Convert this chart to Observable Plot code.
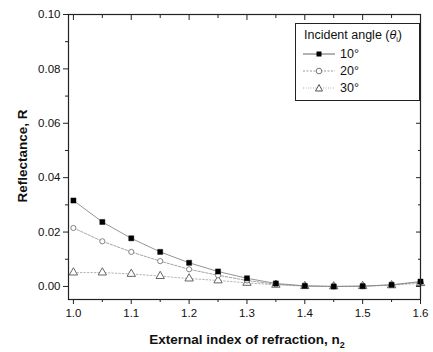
<!DOCTYPE html>
<html><head><meta charset="utf-8">
<script src="https://cdn.jsdelivr.net/npm/d3@7"></script>
<script src="https://cdn.jsdelivr.net/npm/@observablehq/plot@0.6"></script>
<style>
body{margin:0;background:#fff;}
#wrap{position:relative;width:433px;height:352px;font-family:"Liberation Sans",Arial,sans-serif;}
#legend{position:absolute;left:295px;top:23px;width:125px;height:78px;border:1px solid #222;box-sizing:border-box;background:#fff;font-size:12.5px;color:#111;}
#legend .t{position:absolute;left:8px;top:4px;white-space:nowrap;}
#legend .row{position:absolute;left:6px;height:16px;display:flex;align-items:center;}
#legend .row span{margin-left:4px;}
</style>
</head><body>
<div id="wrap"></div>
<script>
const n2 = [1.0,1.05,1.1,1.15,1.2,1.25,1.3,1.35,1.4,1.45,1.5,1.55,1.6];
const R10 = [0.0316,0.0237,0.0177,0.0127,0.0087,0.0055,0.0030,0.0011,0.0002,0.0000,0.0001,0.0006,0.0018];
const R20 = [0.0215,0.0166,0.0127,0.0093,0.0063,0.0041,0.0022,0.0008,0.0002,0.0000,0.0001,0.0006,0.0016];
const R30 = [0.0051,0.0051,0.0046,0.0038,0.0029,0.0022,0.0013,0.0006,0.0001,0.0000,0.0001,0.0004,0.0012];
const seriesNames = ["10°","20°","30°"];
const xTicks = [1.0,1.1,1.2,1.3,1.4,1.5,1.6];
const xMinor = [1.05,1.15,1.25,1.35,1.45,1.55];
const yTicks = [0.00,0.02,0.04,0.06,0.08,0.10];
const yMinor = [0.01,0.03,0.05,0.07,0.09];

const rows = (vals, s) => n2.map((x,i)=>({x, y: vals[i], s}));
const d10 = rows(R10, seriesNames[0]);
const d20 = rows(R20, seriesNames[1]);
const d30 = rows(R30, seriesNames[2]);

const font = '"Liberation Sans",Arial,sans-serif';
const chart = Plot.plot({
  width: 433, height: 352,
  marginLeft: 68, marginRight: 13, marginTop: 14, marginBottom: 53,
  style: {fontFamily: font, fontSize: "11.5px", color: "#111", background: "#fff"},
  x: {domain: [0.9915, 1.6], ticks: xTicks},
  y: {domain: [-0.0048, 0.1], ticks: yTicks},
  marks: [
    Plot.line(d30, {x:"x", y:"y", stroke:"#aaa", strokeWidth:0.9, strokeDasharray:"1.5,2"}),
    Plot.line(d20, {x:"x", y:"y", stroke:"#999", strokeWidth:0.9, strokeDasharray:"2.5,1.5"}),
    Plot.line(d10, {x:"x", y:"y", stroke:"#888", strokeWidth:0.9}),
    Plot.dot(d30, {x:"x", y:"y", symbol:"triangle", r:3.1, stroke:"#555", fill:"#fff", strokeWidth:0.9}),
    Plot.dot(d20, {x:"x", y:"y", symbol:"circle", r:2.6, stroke:"#777", fill:"#fff", strokeWidth:0.9}),
    Plot.dot(d10, {x:"x", y:"y", symbol:"square", r:2.9, fill:"#000", stroke:"#000", strokeWidth:0.4}),
    Plot.axisX({ticks: xTicks, tickSize: 5, tickPadding: 4, tickFormat: d3.format(".1f"), label: null, stroke:"#222"}),
    Plot.axisX({ticks: xMinor, tickSize: 3, text: null, label: null, stroke:"#222"}),
    Plot.axisX({anchor:"top", ticks: xTicks, tickSize: -5, text: null, label: null, stroke:"#222"}),
    Plot.axisX({anchor:"top", ticks: xMinor, tickSize: -3, text: null, label: null, stroke:"#222"}),
    Plot.axisY({ticks: yTicks, tickSize: 5, tickPadding: 3, tickFormat: d3.format(".2f"), label: null, stroke:"#222"}),
    Plot.axisY({ticks: yMinor, tickSize: 3, text: null, label: null, stroke:"#222"}),
    Plot.axisY({anchor:"right", ticks: yTicks, tickSize: -5, text: null, label: null, stroke:"#222"}),
    Plot.axisY({anchor:"right", ticks: yMinor, tickSize: -3, text: null, label: null, stroke:"#222"}),
    Plot.frame({stroke:"#222", strokeWidth:1.2})
  ]
});

const wrap = document.getElementById("wrap");
wrap.appendChild(chart);

const svg = d3.select(chart);
svg.append("text").attr("x", 247).attr("y", 344).attr("text-anchor","middle")
  .attr("font-family", font).attr("font-size", 13.5).attr("font-weight","bold").attr("fill","#111")
  .html('External index of refraction, n<tspan dy="4" font-size="9">2</tspan>');
svg.append("text").attr("transform","translate(27,156) rotate(-90)").attr("text-anchor","middle")
  .attr("font-family", font).attr("font-size", 13.5).attr("font-weight","bold").attr("fill","#111")
  .text("Reflectance, R");

const lg = document.createElement("div");
lg.id = "legend";
const sym = [
  '<svg width="34" height="12"><line x1="1" y1="6" x2="33" y2="6" stroke="#666"/><rect x="14.5" y="3.5" width="5" height="5" fill="#000"/></svg>',
  '<svg width="34" height="12"><line x1="1" y1="6" x2="33" y2="6" stroke="#999" stroke-dasharray="2,1.5"/><circle cx="17" cy="6" r="2.8" fill="#fff" stroke="#777"/></svg>',
  '<svg width="34" height="12"><line x1="1" y1="6" x2="33" y2="6" stroke="#aaa" stroke-dasharray="1,1.5"/><path d="M17,2.5 L20.5,9 L13.5,9 Z" fill="#fff" stroke="#555"/></svg>'
];
let html = '<div class="t">Incident angle (<i>θ</i><span style="font-size:7px;position:relative;top:3px">i</span>)</div>';
seriesNames.forEach((s,i)=>{ html += `<div class="row" style="top:${22+i*17}px">${sym[i]}<span>${s}</span></div>`; });
lg.innerHTML = html;
wrap.appendChild(lg);
</script>
</body></html>
